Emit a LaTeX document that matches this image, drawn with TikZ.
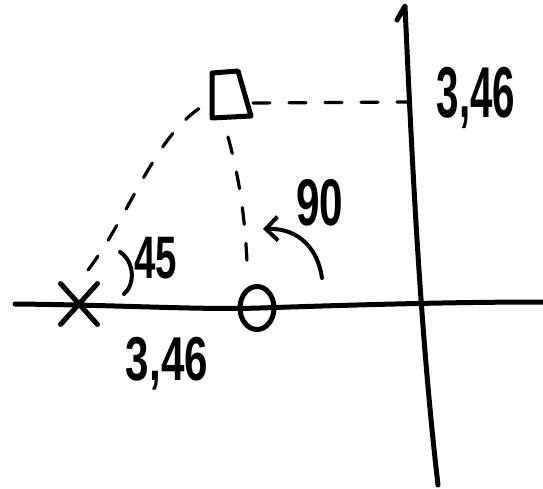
\documentclass[tikz,border=0pt]{standalone}
\usepackage{fontspec}
\setmainfont{Liberation Sans}
\usetikzlibrary{shapes.misc,shapes.geometric,arrows.meta}
\begin{document}
\begin{tikzpicture}[x=1pt,y=-1pt,
  ink/.style={line width=5pt, line cap=round, line join=round},
  thinink/.style={line width=4pt, line cap=round, line join=round},
  dashink/.style={line width=3.2pt, line cap=round, dash pattern=on 17pt off 19pt},
  lbl/.style={inner sep=0pt, transform shape}]
\useasboundingbox (0,0) rectangle (543,489);
% axes
\coordinate (hl) at (15,304);
\coordinate (hr) at (543,302);
\coordinate (vh) at (397,20);
\coordinate (vt) at (405,6);
\coordinate (vb) at (438,485);
\draw[ink] (hl) .. controls (120,305) and (200,310) .. (260,308) .. controls (350,305) and (450,302) .. (hr);
\draw[ink] (vh) -- (vt) .. controls (412,160) and (420,330) .. (vb);
% marks
\node[draw, cross out, ink, minimum width=32pt, minimum height=36pt, inner sep=0pt] (xm) at (79,304) {};
\node[draw, ellipse, ink, minimum width=34pt, minimum height=43pt, inner sep=0pt] (o) at (257,308) {};
% square
\coordinate (sqa) at (212,73);
\coordinate (sqb) at (238,71);
\coordinate (sqc) at (251,116);
\coordinate (sqd) at (212,118);
\draw[ink] (sqa) -- (sqb) -- (sqc) -- (sqd) -- cycle;
% dashed connectors
\coordinate (sqr) at (253,103);
\coordinate (ya) at (407,102);
\coordinate (sqbot) at (228,137);
\coordinate (ot) at (247,262);
\coordinate (xa) at (88,270);
\coordinate (sqbl) at (203,106);
\draw[dashink] (sqr) -- (ya);
\draw[dashink] (sqbot) .. controls (240,180) and (245,220) .. (ot);
\draw[dashink] (xa) .. controls (130,215) and (155,135) .. (sqbl);
% angle marks
\coordinate (a45s) at (120,252);
\coordinate (a45e) at (124,294);
\draw[thinink] (a45s) .. controls (135,262) and (135,285) .. (a45e);
\coordinate (a90s) at (322,278);
\coordinate (a90e) at (263,229);
\draw[thinink, -{Straight Barb[length=12pt, width=24pt]}] (a90s) .. controls (318,250) and (300,228) .. (a90e);
% labels
\node[lbl, font=\bfseries\fontsize{72}{80}\selectfont, xscale=0.56] (lr) at (476,98) {3,46};
\node[lbl, font=\bfseries\fontsize{62}{70}\selectfont, xscale=0.68] (lb) at (167,364) {3,46};
\node[lbl, font=\bfseries\fontsize{60}{66}\selectfont, xscale=0.64] (l45) at (156,258) {45};
\node[lbl, font=\bfseries\fontsize{66}{72}\selectfont, xscale=0.64] (l90) at (320,203) {90};
\end{tikzpicture}
\end{document}
